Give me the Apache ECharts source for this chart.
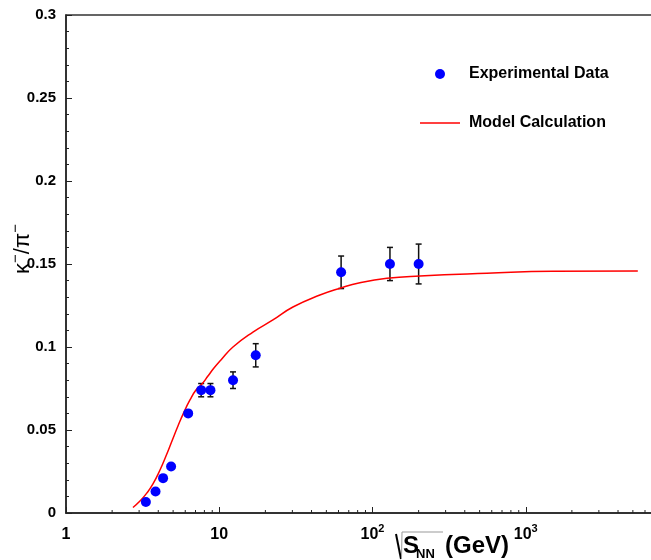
<!DOCTYPE html>
<html>
<head>
<meta charset="utf-8">
<script src="https://cdn.jsdelivr.net/npm/echarts@6/dist/echarts.min.js"></script>
<style>html,body{margin:0;padding:0;background:#fff}#c{width:651px;height:560px}</style>
</head>
<body>
<div id="c"></div>
<script>
// Experimental data: sqrt(s_NN) (GeV), K-/pi- ratio, error
const expEnergy = [3.32, 3.84, 4.3, 4.85, 6.27, 7.62, 8.76, 12.3, 17.3, 62.4, 130, 200];
const expRatio  = [0.0066, 0.013, 0.021, 0.028, 0.060, 0.074, 0.074, 0.080, 0.095, 0.145, 0.150, 0.150];
const expError  = [0, 0, 0, 0, 0, 0.004, 0.004, 0.005, 0.007, 0.0098, 0.010, 0.012];
// Model calculation curve
const modelEnergy = [2.735, 3.039, 3.376, 3.694, 4.105, 4.491, 4.915, 5.378, 5.885, 6.441, 7.047, 7.713, 8.441, 9.236, 10.26, 12.29, 16.59, 22.4, 30.26, 45.39, 61.29, 82.77, 124.2, 203.8, 557.5, 1502, 5386];
const modelRatio  = [0.0033, 0.0072, 0.0121, 0.0175, 0.0259, 0.0343, 0.0434, 0.0524, 0.0608, 0.0681, 0.0741, 0.0777, 0.0825, 0.0873, 0.0922, 0.1000, 0.1090, 0.1163, 0.1241, 0.1313, 0.1354, 0.1387, 0.1414, 0.1428, 0.1444, 0.1456, 0.1458];
// minor tick values on the log axis
const minorTickValues = [2,3,4,5,6,7,8,9,20,30,40,50,60,70,80,90,200,300,400,500,600,700,800,900,2000,3000,4000,5000,6000,7000,8000,9000];

const chart = echarts.init(document.getElementById('c'), null, {renderer: 'canvas'});
const FONT = '"Liberation Sans", Arial, Helvetica, sans-serif';
const expData = expEnergy.map((e, i) => [e, expRatio[i]]);
const errData = expEnergy.map((e, i) => [e, expRatio[i], expError[i]]).filter(d => d[2] > 0);
const modelData = modelEnergy.map((e, i) => [e, modelRatio[i]]);
const legendText = {fontSize: 16, fontWeight: 'bold', fontFamily: FONT, color: '#000', lineHeight: 20, padding: [0, 0, 0, 4]};

const option = {
  backgroundColor: '#fff',
  animation: false,
  grid: {left: 66, top: 15, bottom: 47, right: -28, outerBoundsMode: 'none', containLabel: false,
         show: true, borderColor: '#333', borderWidth: 1.5, backgroundColor: 'transparent'},
  xAxis: {
    type: 'log', logBase: 10, min: 1, max: 10000,
    axisLine: {show: true, onZero: false, lineStyle: {color: '#222', width: 1.5}},
    axisTick: {show: true, inside: true, length: 6, lineStyle: {color: '#222', width: 1}},
    splitLine: {show: false},
    axisLabel: {
      margin: 10, color: '#000',
      formatter: function (v) {
        const e = Math.round(Math.log10(v));
        if (e <= 1) return '{b|' + Math.round(v) + '}';
        return '{b|10}{s|' + e + '}';
      },
      rich: {
        b: {fontSize: 16, fontWeight: 'bold', fontFamily: FONT, color: '#000', lineHeight: 20, verticalAlign: 'bottom'},
        s: {fontSize: 11, fontWeight: 'bold', fontFamily: FONT, color: '#000', lineHeight: 20, verticalAlign: 'top'}
      }
    }
  },
  yAxis: {
    type: 'value', min: 0, max: 0.3, interval: 0.05,
    axisLine: {show: true, onZero: false, lineStyle: {color: '#222', width: 1.5}},
    axisTick: {show: true, inside: true, length: 6, lineStyle: {color: '#222', width: 1}},
    minorTick: {show: true, splitNumber: 5, length: 3, lineStyle: {color: '#222', width: 1}},
    splitLine: {show: false},
    axisLabel: {
      margin: 10, color: '#000', fontSize: 15, fontWeight: 'bold', fontFamily: FONT,
      formatter: function (v) { return String(+v.toFixed(2)); }
    }
  },
  legend: [
    {
      left: 430, top: 59, orient: 'vertical', itemWidth: 40, itemHeight: 10, selectedMode: false,
      textStyle: legendText,
      data: [{name: 'Experimental Data', icon: 'circle'}]
    },
    {
      left: 415, top: 108, orient: 'vertical', itemWidth: 40, itemHeight: 1.5, selectedMode: false,
      textStyle: legendText,
      data: [{name: 'Model Calculation', icon: 'rect'}]
    }
  ],
  series: [
    {
      name: 'Model Calculation', type: 'line', data: modelData, smooth: 0.5,
      showSymbol: false, symbol: 'none',
      lineStyle: {color: '#ff0000', width: 1.5}, itemStyle: {color: '#ff0000'}, z: 3
    },
    {
      name: 'errors', type: 'custom', data: errData, z: 2, clip: false,
      renderItem: function (params, api) {
        const x = api.value(0), y = api.value(1), e = api.value(2);
        const top = api.coord([x, y + e]);
        const bot = api.coord([x, y - e]);
        const st = {stroke: '#111', lineWidth: 1.5};
        return {type: 'group', children: [
          {type: 'line', shape: {x1: top[0], y1: top[1], x2: bot[0], y2: bot[1]}, style: st},
          {type: 'line', shape: {x1: top[0] - 3, y1: top[1], x2: top[0] + 3, y2: top[1]}, style: st},
          {type: 'line', shape: {x1: bot[0] - 3, y1: bot[1], x2: bot[0] + 3, y2: bot[1]}, style: st}
        ]};
      }
    },
    {
      name: 'Experimental Data', type: 'scatter', data: expData, symbol: 'circle', symbolSize: 10,
      itemStyle: {color: '#0000ff', opacity: 1}, z: 4
    },
    {
      name: 'minorTicks', type: 'custom', data: minorTickValues.map(v => [v, 0]), z: 5, clip: false,
      renderItem: function (params, api) {
        const p = api.coord([api.value(0), 0]);
        return {type: 'line', shape: {x1: p[0], y1: p[1], x2: p[0], y2: p[1] - 3}, style: {stroke: '#222', lineWidth: 1}};
      }
    }
  ],
  graphic: [
    {
      type: 'text', x: 21, y: 249, rotation: Math.PI / 2,
      style: {
        text: '{k|κ}{m|−}{k|/π}{m|−}',
        align: 'center', verticalAlign: 'middle',
        rich: {
          k: {fontSize: 22, fontFamily: FONT, fill: '#000', lineHeight: 26, verticalAlign: 'bottom'},
          m: {fontSize: 15, fontFamily: FONT, fill: '#000', lineHeight: 26, verticalAlign: 'top'}
        }
      }
    },
    {type: 'polyline', shape: {points: [[396, 534], [401, 559]]}, style: {stroke: '#000', lineWidth: 2, fill: null}},
    {type: 'polyline', shape: {points: [[401.5, 559], [402, 532], [443, 532]]}, style: {stroke: '#999', lineWidth: 1, fill: null}},
    {type: 'text', x: 403, y: 546, style: {text: 'S', fontSize: 24, fontWeight: 'bold', fontFamily: FONT, fill: '#000', verticalAlign: 'middle'}},
    {type: 'text', x: 416, y: 554, style: {text: 'NN', fontSize: 13, fontWeight: 'bold', fontFamily: FONT, fill: '#000', verticalAlign: 'middle'}},
    {type: 'text', x: 445, y: 546, style: {text: '(GeV)', fontSize: 24, fontWeight: 'bold', fontFamily: FONT, fill: '#000', verticalAlign: 'middle'}}
  ]
};
chart.setOption(option);
</script>
</body>
</html>
